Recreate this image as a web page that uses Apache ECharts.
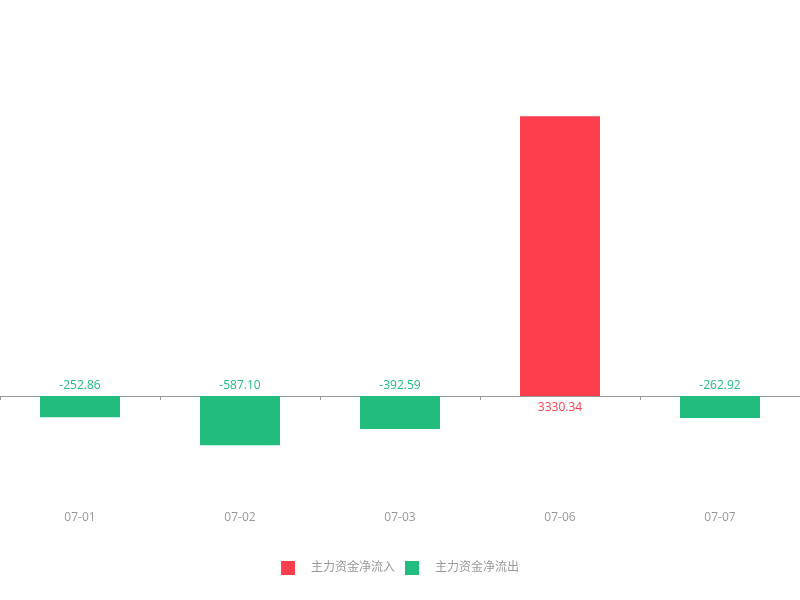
<!DOCTYPE html>
<html>
<head>
<meta charset="utf-8">
<script src="https://cdn.jsdelivr.net/npm/echarts@6/dist/echarts.min.js"></script>
<style>
  html, body { margin: 0; padding: 0; background: #fff; }
  #chart { width: 800px; height: 600px; }
</style>
</head>
<body>
<div id="chart"></div>
<script>
// 主力资金 daily net flow
const dates = ['07-01', '07-02', '07-03', '07-06', '07-07'];
const inflow = ['-', '-', '-', 3330.34, '-'];
const outflow = [-252.86, -587.10, -392.59, '-', -262.92];

const red = '#fe3e4d';
const green = '#21bd7f';

const myChart = echarts.init(document.getElementById('chart'));

const labelFor = (v) => ({
  show: true,
  position: v >= 0 ? 'bottom' : 'top',
  distance: v >= 0 ? 6 : 4,
  fontSize: 12,
  formatter: (p) => Number(p.value).toFixed(2)
});

const option = {
  textStyle: { fontFamily: '"Open Sans", "Noto Sans CJK SC", sans-serif' },
  legend: {
    bottom: 20,
    left: 'center',
    icon: 'rect',
    itemWidth: 14,
    itemHeight: 14,
    itemGap: 10,
    textStyle: { color: '#999', fontSize: 12, padding: [0, 0, 0, 11] },
    data: ['主力资金净流入', '主力资金净流出']
  },
  grid: { left: 0, right: 0, top: 60, bottom: 120 },
  xAxis: [
    {
      type: 'category',
      data: dates,
      axisLine: { onZero: true, lineStyle: { color: '#999' } },
      axisTick: { show: true, length: 4, lineStyle: { color: '#999' } },
      axisLabel: { show: false }
    },
    {
      type: 'category',
      data: dates,
      position: 'bottom',
      axisLine: { show: false },
      axisTick: { show: false },
      axisLabel: { color: '#999', fontSize: 12, margin: 32 }
    }
  ],
  yAxis: {
    type: 'value',
    min: -1000,
    max: 4000,
    show: false,
    splitLine: { show: false }
  },
  series: [
    {
      name: '主力资金净流入',
      type: 'bar',
      stack: 'flow',
      barWidth: '50%',
      itemStyle: { color: red },
      label: { color: red },
      data: inflow.map((v) => v === '-' ? '-' : { value: v, label: labelFor(v) })
    },
    {
      name: '主力资金净流出',
      type: 'bar',
      stack: 'flow',
      barWidth: '50%',
      itemStyle: { color: green },
      label: { color: green },
      data: outflow.map((v) => v === '-' ? '-' : { value: v, label: labelFor(v) })
    }
  ]
};

myChart.setOption(option);
</script>
</body>
</html>
